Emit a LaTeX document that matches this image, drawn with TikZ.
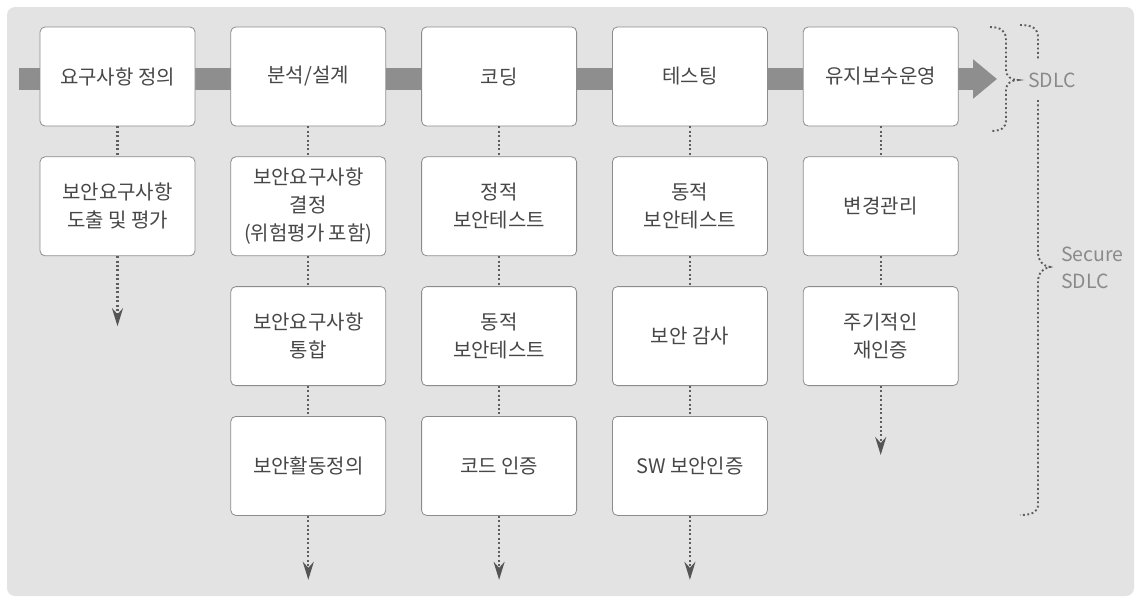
\documentclass[tikz,border=0pt]{standalone}
\usepackage{fontspec}
\setmainfont{Noto Sans CJK KR}
\usetikzlibrary{positioning,arrows.meta}
\definecolor{bggray}{HTML}{E3E3E3}
\definecolor{boxline}{HTML}{8C8C8C}
\definecolor{flowgray}{HTML}{8E8E8E}
\definecolor{textgray}{HTML}{474747}
\definecolor{dotgray}{HTML}{5E5E5E}
\definecolor{labelgray}{HTML}{8A8A8A}
\definecolor{tipgray}{HTML}{555555}
\tikzset{
    stage/.style = {
        draw = boxline,
        fill = white,
        line width = 0.8pt,
        rounded corners = 5pt,
        minimum width = 155pt,
        minimum height = 99pt,
        align = center,
        text = textgray,
        font = \fontsize{20pt}{28pt}\selectfont,
        },
    link/.style = {
        draw = dotgray,
        line width = 2.2pt,
        dash pattern = on 2pt off 2.4pt,
        },
    link end/.style = {
        link,
        -{Stealth[length=18pt,width=11pt,inset=6pt,color=tipgray]},
        },
    flow/.style = {
        draw = flowgray,
        line width = 22pt,
        -{Triangle[length=24pt,width=38pt]},
        },
    brace/.style = {
        draw = dotgray,
        line width = 1.9pt,
        dash pattern = on 1.9pt off 2.5pt,
        },
    sdlc label/.style = {
        text = labelgray,
        align = left,
        inner sep = 0pt,
        font = \fontsize{19.5pt}{27pt}\selectfont,
        },
}

\begin{document}
\begin{tikzpicture}[x=1pt, y=-1pt, node distance=30pt and 35pt]
    \useasboundingbox (0,0) rectangle (1142,603);
    \fill[bggray, rounded corners=8pt] (7,7) rectangle (1134,596);

    % main process band
    \coordinate (flow start) at (19,79);
    \coordinate (flow end) at (997,79);
    \draw[flow] (flow start) -- (flow end);

    % SDLC stages
    \node[stage] (req) at (117.5,76.5) {요구사항 정의};
    \node[stage, right=of req] (design) {분석/설계};
    \node[stage, right=of design] (code) {코딩};
    \node[stage, right=of code] (test) {테스팅};
    \node[stage, right=of test] (ops) {유지보수운영};

    % security activities
    \node[stage, below=of req] (req1) {보안요구사항\\도출 및 평가};
    \node[stage, below=of design] (design1) {보안요구사항\\결정\\(위험평가 포함)};
    \node[stage, below=of design1] (design2) {보안요구사항\\통합};
    \node[stage, below=of design2] (design3) {보안활동정의};
    \node[stage, below=of code] (code1) {정적\\보안테스트};
    \node[stage, below=of code1] (code2) {동적\\보안테스트};
    \node[stage, below=of code2] (code3) {코드 인증};
    \node[stage, below=of test] (test1) {동적\\보안테스트};
    \node[stage, below=of test1] (test2) {보안 감사};
    \node[stage, below=of test2] (test3) {SW 보안인증};
    \node[stage, below=of ops] (ops1) {변경관리};
    \node[stage, below=of ops1] (ops2) {주기적인\\재인증};

    \path[link] (req) -- (req1);
    \path[link] (design) -- (design1);
    \path[link] (design1) -- (design2);
    \path[link] (design2) -- (design3);
    \path[link] (code) -- (code1);
    \path[link] (code1) -- (code2);
    \path[link] (code2) -- (code3);
    \path[link] (test) -- (test1);
    \path[link] (test1) -- (test2);
    \path[link] (test2) -- (test3);
    \path[link] (ops) -- (ops1);
    \path[link] (ops1) -- (ops2);

    % open ends
    \coordinate[below=70pt of req1.south] (req end);
    \coordinate[below=64pt of design3.south] (design end);
    \coordinate[below=64pt of code3.south] (code end);
    \coordinate[below=64pt of test3.south] (test end);
    \coordinate[below=69pt of ops2.south] (ops end);
    \draw[link end] (req1) -- (req end);
    \draw[link end] (design3) -- (design end);
    \draw[link end] (code3) -- (code end);
    \draw[link end] (test3) -- (test end);
    \draw[link end] (ops2) -- (ops end);

    % braces
    \draw[brace] (990,27) .. controls (1001,27) and (1006,31) .. (1006,40)
        -- (1006,70) .. controls (1006,76) and (1011,80) .. (1018,80)
        .. controls (1011,80) and (1006,84) .. (1006,90)
        -- (1006,120) .. controls (1006,128) and (1001,131) .. (990,131);
    \draw[brace] (1020,25) .. controls (1032,25) and (1038,28) .. (1038,38) -- (1038,60);
    \draw[brace] (1038,100) -- (1038,252) .. controls (1038,261) and (1043,266) .. (1050,267)
        .. controls (1043,268) and (1038,273) .. (1038,282)
        -- (1038,505) .. controls (1038,512) and (1032,515) .. (1020,515);

    \node[sdlc label, anchor=west] (sdlc) at (1028,80) {SDLC};
    \node[sdlc label, anchor=west] (secure) at (1061,268) {Secure\\SDLC};
\end{tikzpicture}
\end{document}
